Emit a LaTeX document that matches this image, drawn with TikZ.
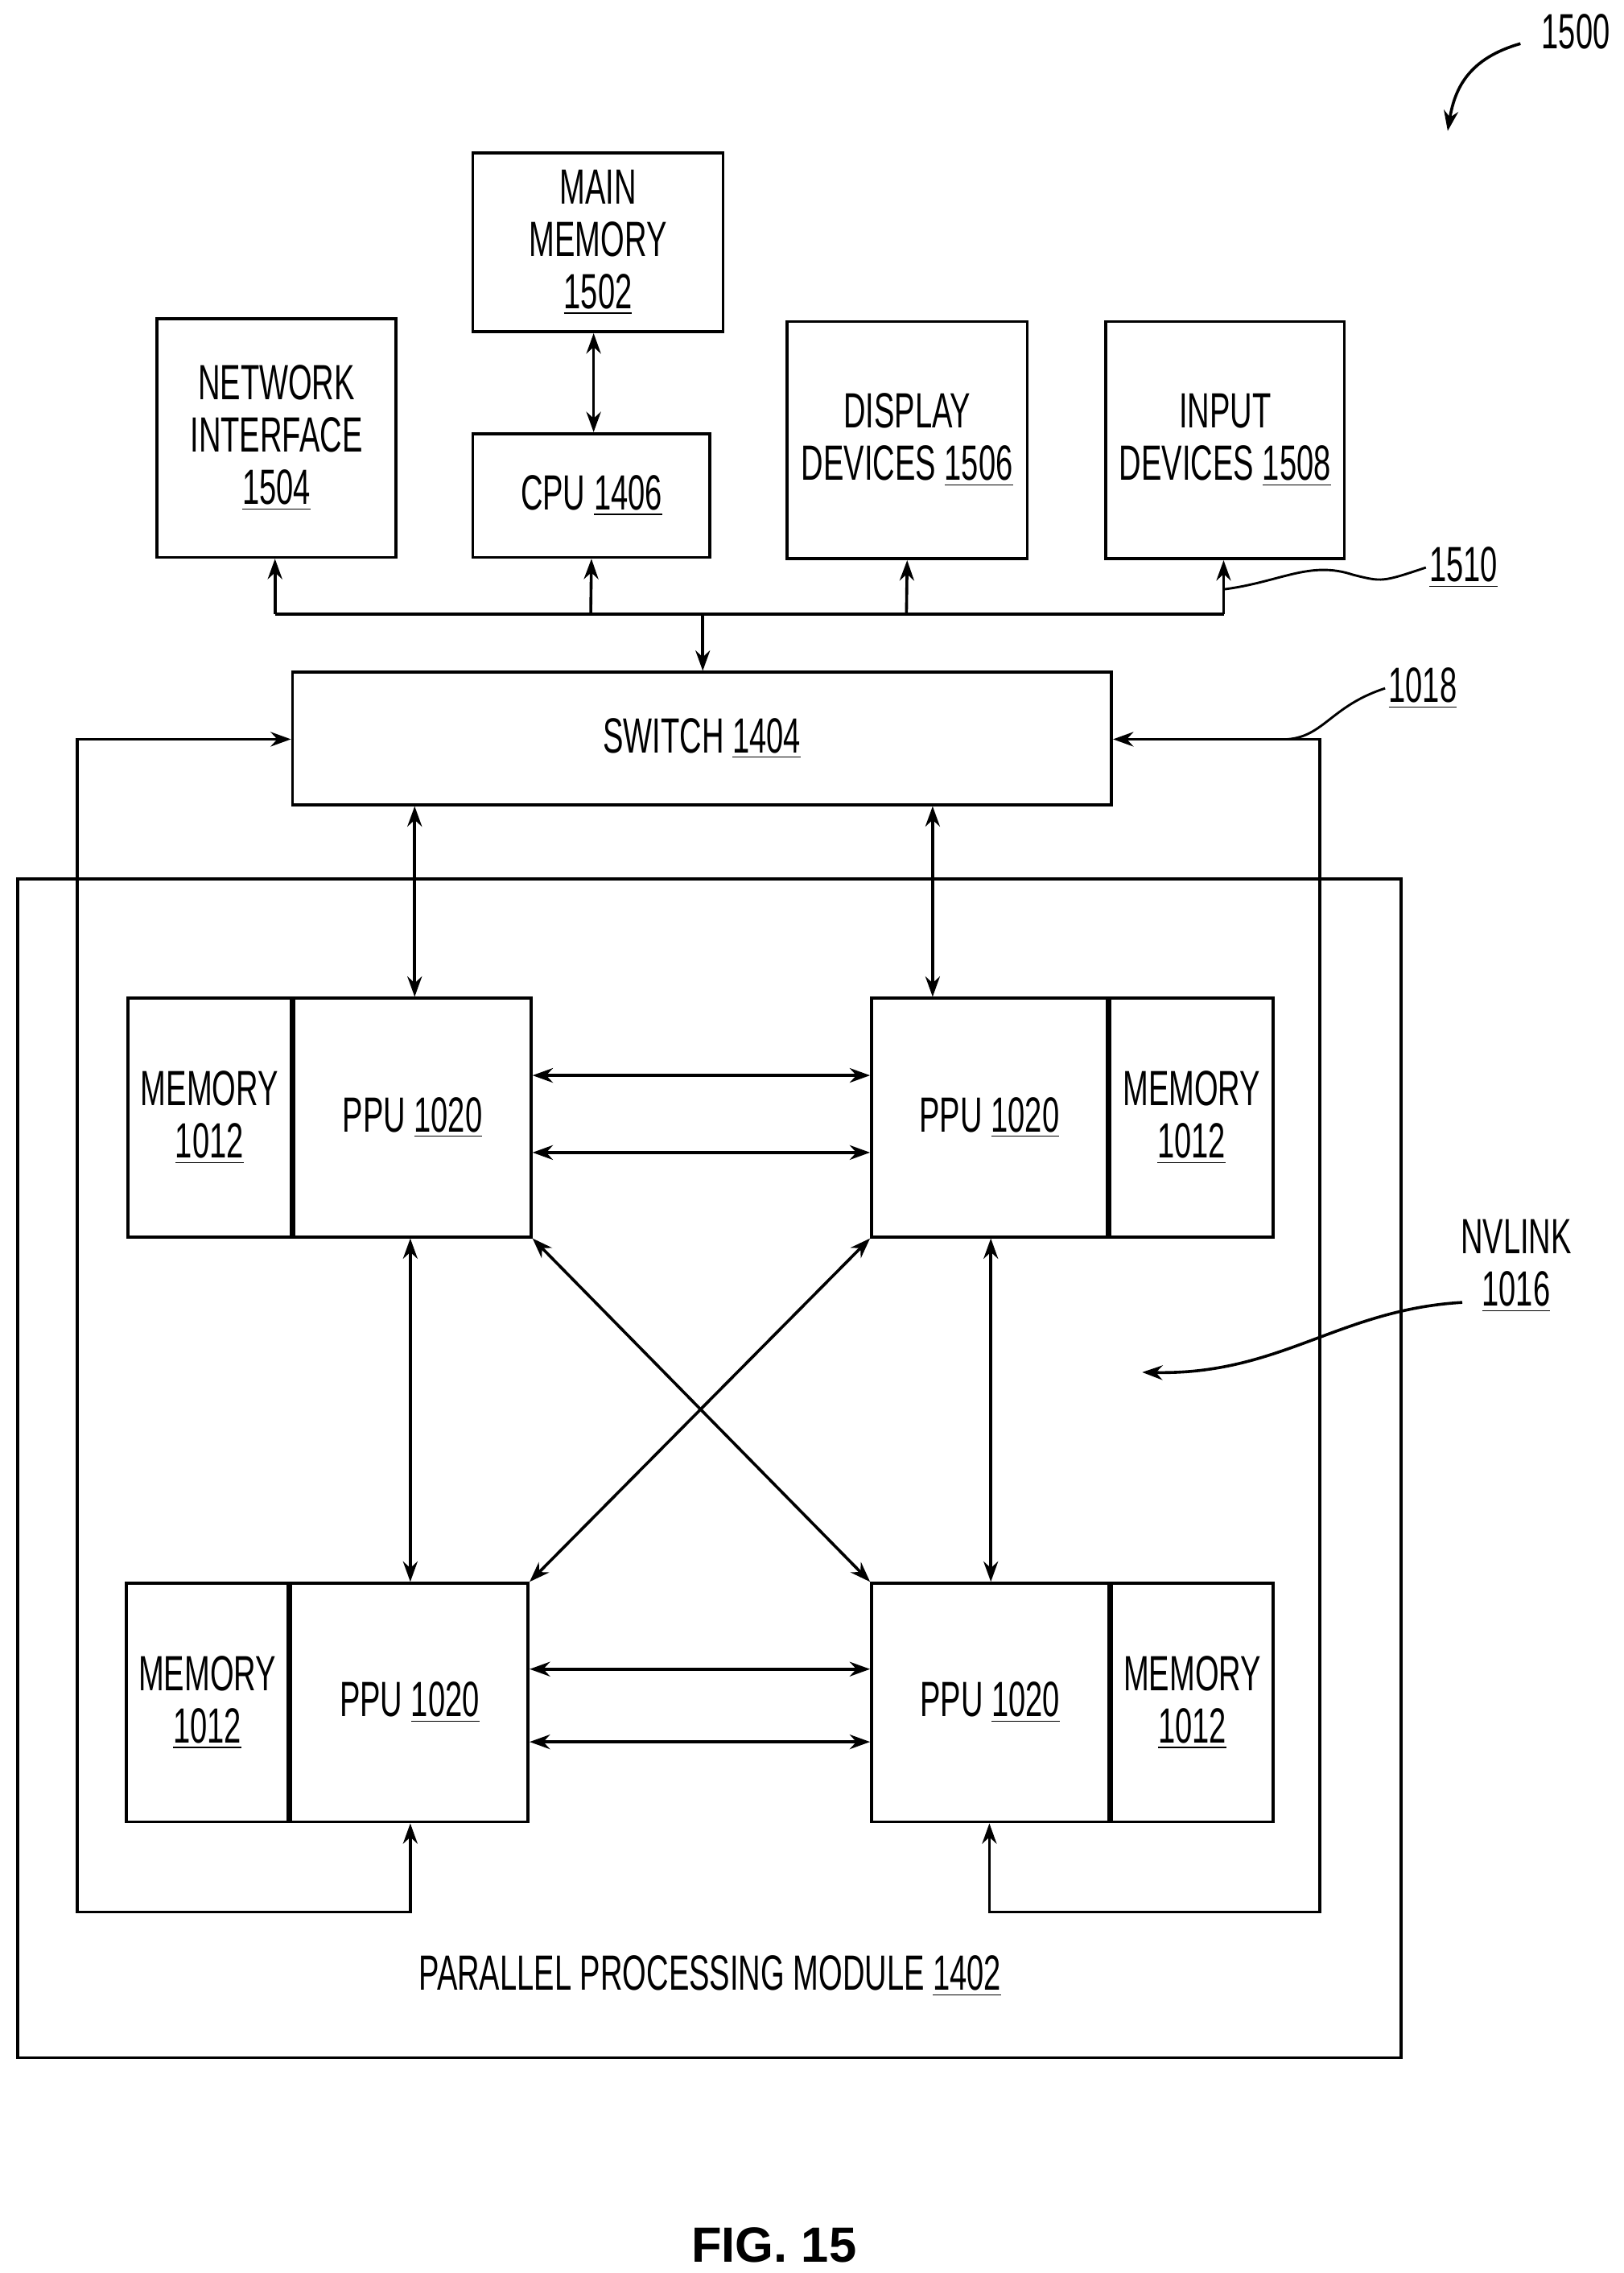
\documentclass[tikz,border=0pt]{standalone}
\usepackage{fontspec}
\setmainfont[FakeStretch=0.62]{Liberation Sans}
\newfontfamily\figfont{Liberation Sans}
\usetikzlibrary{arrows.meta,positioning}
\newcommand{\num}[1]{\underline{#1}}
\begin{document}
\begin{tikzpicture}[x=0.5pt,y=0.5pt,yscale=-1,
  box/.style={draw,line width=1pt,inner sep=0pt,align=center,font=\fontsize{17}{18}\selectfont},
  link/.style={line width=1pt,{Stealth[length=7pt,width=5pt]}-{Stealth[length=7pt,width=5pt]}},
  oneway/.style={line width=1pt,-{Stealth[length=7pt,width=5pt]}},
  lbl/.style={font=\fontsize{17}{18}\selectfont,align=center,inner sep=1pt}]
\useasboundingbox (0,0) rectangle (1116,1562);

% upper boxes
\node[box,minimum width=86pt,minimum height=61.5pt] (mainmem) at (411,166.5) {MAIN\\MEMORY\\\num{1502}};
\node[box,minimum width=81.5pt,minimum height=42.5pt] (cpu) at (406.5,340.5) {CPU \num{1406}};
\node[box,minimum width=82pt,minimum height=82pt] (netif) at (190,301) {NETWORK\\INTERFACE\\\num{1504}};
\node[box,minimum width=82.5pt,minimum height=81.5pt] (display) at (623.5,302.5) {DISPLAY\\DEVICES \num{1506}};
\node[box,minimum width=82pt,minimum height=81.5pt] (input) at (842,302.5) {INPUT\\DEVICES \num{1508}};
\node[box,minimum width=281.5pt,minimum height=45.5pt] (switch) at (482.5,507.5) {SWITCH \num{1404}};

% bus
\coordinate (bus) at (483,422);
\draw[line width=1pt] (189,422) -- (841,422);
\draw[oneway] (189,422) -- (netif.south -| 189,0);
\draw[oneway] (406,422) -- (cpu.south);
\draw[oneway] (623,422) -- (display.south);
\draw[oneway] (841,422) -- (input.south -| 841,0);
\draw[oneway] (bus) -- (switch.north -| bus);
\draw[link] (mainmem.south -| 408,0) -- (cpu.north -| 408,0);

% parallel processing module
\node[draw,line width=1pt,minimum width=475.5pt,minimum height=405pt,inner sep=0pt] (ppm) at (487.5,1009) {};
\node[lbl] (ppmlabel) at (488,1358) {PARALLEL PROCESSING MODULE \num{1402}};

% PPUs
\node[box,minimum width=81.5pt,minimum height=82pt] (ppuA) at (283.5,768) {PPU \num{1020}};
\node[box,minimum width=56pt,minimum height=82pt,left=0pt of ppuA] (memA) {MEMORY\\\num{1012}};
\node[box,minimum width=81pt,minimum height=82pt] (ppuB) at (680,768) {PPU \num{1020}};
\node[box,minimum width=56pt,minimum height=82pt,right=0pt of ppuB] (memB) {MEMORY\\\num{1012}};
\node[box,minimum width=81.5pt,minimum height=82pt] (ppuC) at (281.5,1170) {PPU \num{1020}};
\node[box,minimum width=55.5pt,minimum height=82pt,left=0pt of ppuC] (memC) {MEMORY\\\num{1012}};
\node[box,minimum width=81.5pt,minimum height=82pt] (ppuD) at (680.5,1170) {PPU \num{1020}};
\node[box,minimum width=55.5pt,minimum height=82pt,right=0pt of ppuD] (memD) {MEMORY\\\num{1012}};

% links
\draw[link] (switch.south -| 285,0) -- (ppuA.north -| 285,0);
\draw[link] (switch.south -| 641,0) -- (ppuB.north -| 641,0);
\draw[link] (ppuA.east |- 0,739) -- (ppuB.west |- 0,739);
\draw[link] (ppuA.east |- 0,792) -- (ppuB.west |- 0,792);
\draw[link] (ppuC.east |- 0,1147) -- (ppuD.west |- 0,1147);
\draw[link] (ppuC.east |- 0,1197) -- (ppuD.west |- 0,1197);
\draw[link] (ppuA.south -| 282,0) -- (ppuC.north -| 282,0);
\draw[link] (ppuB.south -| 681,0) -- (ppuD.north -| 681,0);
\draw[link] (ppuA.south east) -- (ppuD.north west);
\draw[link] (ppuB.south west) -- (ppuC.north east);
\draw[link] (ppuC.south -| 282,0) -- (282,1314) -- (53,1314) -- (53,508) -- (switch.west |- 0,508);
\draw[link] (ppuD.south -| 680,0) -- (680,1314) -- (907,1314) -- (907,508) -- (switch.east |- 0,508);

% reference labels
\node[lbl,anchor=west] (l1510) at (980,390) {\num{1510}};
\draw[line width=0.8pt] (841,405) .. controls (880,400) and (900,385) .. (930,395) .. controls (950,400) .. (l1510.west);
\node[lbl,anchor=west] (l1018) at (952,473) {\num{1018}};
\draw[line width=0.8pt] (885,508) .. controls (910,506) and (915,485) .. (l1018.west);
\node[lbl] (l1016) at (1042,870) {NVLINK\\\num{1016}};
\draw[oneway] (1005,895) .. controls (920,900) and (880,945) .. (785,943);
\node[lbl] (l1500) at (1083,22) {1500};
\draw[oneway] (1045,30) .. controls (1010,40) and (1000,60) .. (995,90);
\node[font=\fontsize{17}{20}\selectfont\figfont\bfseries] (fig) at (532,1543) {FIG. 15};
\end{tikzpicture}
\end{document}
